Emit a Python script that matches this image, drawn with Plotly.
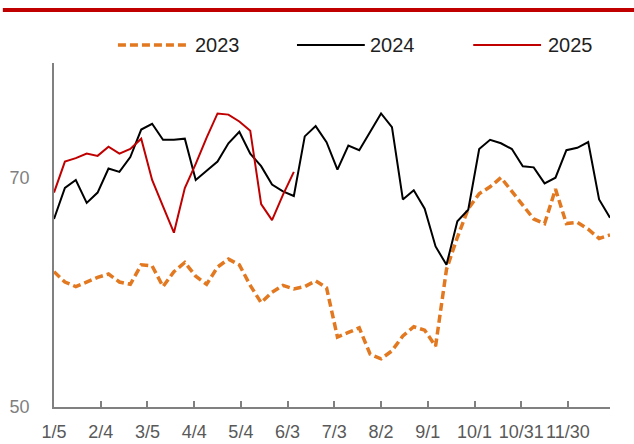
import pandas as pd
import plotly.graph_objects as go

# Weekly observation dates (week-ending Fridays on a leap-year calendar)
week_dates = pd.date_range("2024-01-05", periods=52, freq="7D")

# Series values
values_2023 = [61.8, 60.9, 60.5, 60.9, 61.3, 61.6, 60.9, 60.7, 62.4, 62.3,
               60.5, 61.8, 62.6, 61.4, 60.7, 62.2, 62.9, 62.4, 60.6, 59.1,
               60.0, 60.6, 60.3, 60.5, 61.0, 60.4, 56.1, 56.5, 56.9, 54.6,
               54.2, 54.9, 56.2, 57.0, 56.7, 55.3, 62.0, 64.8, 67.3, 68.6,
               69.2, 70.0, 68.8, 67.5, 66.4, 66.0, 69.0, 66.0, 66.1, 65.5,
               64.7, 65.0]
values_2024 = [66.4, 69.1, 69.8, 67.8, 68.7, 70.8, 70.5, 71.8, 74.2, 74.7,
               73.3, 73.3, 73.4, 69.8, 70.6, 71.4, 73.0, 74.0, 72.1, 71.0,
               69.4, 68.8, 68.4, 73.6, 74.5, 73.1, 70.7, 72.8, 72.4, 74.0,
               75.6, 74.4, 68.1, 68.9, 67.3, 64.0, 62.4, 66.2, 67.2, 72.5,
               73.3, 73.0, 72.5, 71.0, 70.9, 69.5, 70.0, 72.4, 72.6, 73.1,
               68.1, 66.5]
values_2025 = [68.7, 71.4, 71.7, 72.1, 71.9, 72.7, 72.1, 72.5, 73.4, 69.8,
               67.5, 65.2, 69.1, 71.2, 73.5, 75.6, 75.5, 74.9, 74.1, 67.7,
               66.3, 68.5, 70.5]

# Axis ticks
x_tick_dates = ["2024-01-05", "2024-02-04", "2024-03-05", "2024-04-04",
                "2024-05-04", "2024-06-03", "2024-07-03", "2024-08-02",
                "2024-09-01", "2024-10-01", "2024-10-31", "2024-11-30"]
x_tick_labels = ["1/5", "2/4", "3/5", "4/4", "5/4", "6/3", "7/3", "8/2",
                 "9/1", "10/1", "10/31", "11/30"]
y_tick_values = [50, 70]

series_names = ["2023", "2024", "2025"]
ORANGE = "#E27820"
BLACK = "#000000"
RED = "#C00000"

fig = go.Figure()
fig.add_trace(go.Scatter(x=week_dates, y=values_2023, mode="lines",
                         name=series_names[0],
                         line=dict(color=ORANGE, width=3.5, dash="8px,4px")))
fig.add_trace(go.Scatter(x=week_dates, y=values_2024, mode="lines",
                         name=series_names[1],
                         line=dict(color=BLACK, width=2)))
fig.add_trace(go.Scatter(x=week_dates[:len(values_2025)], y=values_2025,
                         mode="lines", name=series_names[2],
                         line=dict(color=RED, width=2)))

# Hand-built legend row: sample line + label for each series
legend_y = 1.052
legend_items = [
    (0.115, 0.241, 0.250, ORANGE, "8px,4px", 3.5),
    (0.437, 0.559, 0.565, BLACK, "solid", 2),
    (0.754, 0.876, 0.885, RED, "solid", 2),
]
shapes = []
annotations = []
for (x0, x1, xt, color, dash, w), name in zip(legend_items, series_names):
    shapes.append(dict(type="line", xref="paper", yref="paper",
                       x0=x0, x1=x1, y0=legend_y, y1=legend_y,
                       line=dict(color=color, width=w, dash=dash)))
    annotations.append(dict(xref="paper", yref="paper", x=xt, y=legend_y,
                            xanchor="left", yanchor="middle", text=name,
                            showarrow=False,
                            font=dict(family="Arial, Liberation Sans",
                                      size=20, color="#1F1F1F")))

# Red rule across the top of the figure
shapes.append(dict(type="rect", xref="paper", yref="paper",
                   x0=-0.092, x1=1.05, y0=1.148, y1=1.160,
                   fillcolor=RED, line=dict(width=0)))

fig.update_layout(
    width=634, height=444,
    margin=dict(l=54, r=24, t=63, b=37),
    paper_bgcolor="white", plot_bgcolor="white",
    showlegend=False,
    shapes=shapes,
    annotations=annotations,
    xaxis=dict(
        type="date",
        range=[week_dates[0], week_dates[-1]],
        tickvals=x_tick_dates, ticktext=x_tick_labels,
        tickangle=0, automargin=False,
        showgrid=False, zeroline=False,
        showline=True, linecolor="#808080", linewidth=1.5,
        ticks="inside", ticklen=6, tickcolor="#808080", tickwidth=1.5,
        ticklabelstandoff=8,
        tickfont=dict(family="Arial, Liberation Sans", size=18,
                      color="#595959"),
    ),
    yaxis=dict(
        range=[50, 80],
        tickvals=y_tick_values, automargin=False,
        showgrid=False, zeroline=False,
        showline=True, linecolor="#808080", linewidth=1.5,
        ticks="", ticklabelstandoff=19,
        tickfont=dict(family="Arial, Liberation Sans", size=18,
                      color="#7F7F7F"),
    ),
)

fig.write_html("out.html")
